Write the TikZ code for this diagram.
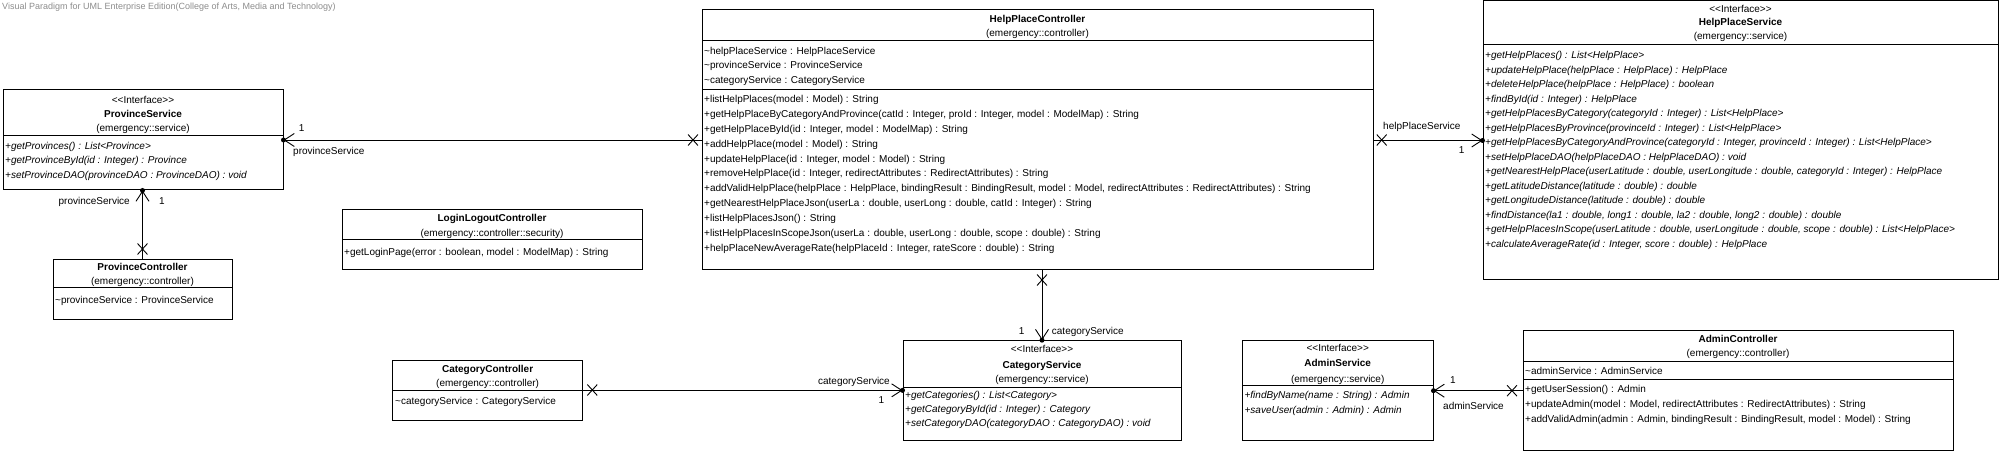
\documentclass[tikz,border=0pt]{standalone}
\usepackage{fontspec}
\setmainfont{Liberation Sans}
\usetikzlibrary{arrows.meta, shapes.misc}
\newcommand{\umlfont}{\fontsize{10}{12}\selectfont}
\newcommand{\ifacetag}{<{}<Interface>{}>}
\tikzstyle{classbox} = [rectangle, draw=black, line width=1pt, inner sep=0pt]
\tikzstyle{divider} = [line width=1pt]
\tikzstyle{head} = [anchor=base, inner sep=0pt, font=\umlfont]
\tikzstyle{cname} = [anchor=base, inner sep=0pt, font=\umlfont\bfseries]
\tikzstyle{member} = [anchor=base west, inner sep=0pt, font=\umlfont]
\tikzstyle{abstractop} = [anchor=base west, inner sep=0pt, font=\umlfont\itshape]
\tikzstyle{lbl} = [inner sep=0pt, font=\umlfont]
\tikzstyle{vptitle} = [anchor=base west, inner sep=0pt, text=black!45, font=\fontsize{9}{10}\selectfont]
\tikzstyle{assoc} = [line width=0.9pt, -{Straight Barb[length=10pt,width=13pt]}]
\tikzstyle{owndot} = [circle, fill=black, inner sep=0pt, minimum size=5pt]
\tikzstyle{xmark} = [cross out, draw=black, line width=0.9pt, inner sep=0pt, minimum width=9pt, minimum height=10pt]

\begin{document}
\begin{tikzpicture}[x=1pt, y=-1pt]
\useasboundingbox (0,0) rectangle (2006,454);

\node[vptitle] (vp) at (2,9.5) {Visual Paradigm for UML Enterprise Edition(College of Arts, Media and Technology)};

% ProvinceService
\node[classbox, minimum width=280pt, minimum height=100pt] (ps) at (143,140) {};
\node[head] (ps-st) at (143,103.5) {\ifacetag};
\node[cname] (ps-nm) at (143,117.5) {ProvinceService};
\node[head] (ps-pk) at (143,131.5) {(emergency::service)};
\draw[divider] (3,136) -- (283,136);
\foreach \op [count=\i from 0] in {{+getProvinces() : List<Province>},
  {+getProvinceById(id : Integer) : Province},
  {+setProvinceDAO(provinceDAO : ProvinceDAO) : void}}
  \node[abstractop] (ps-op\i) at (5,149.5+14.5*\i) {\op};

% ProvinceController
\node[classbox, minimum width=179pt, minimum height=60pt] (pc) at (142.5,290) {};
\node[cname] (pc-nm) at (142.5,270.5) {ProvinceController};
\node[head] (pc-pk) at (142.5,284.5) {(emergency::controller)};
\draw[divider] (53,288) -- (232,288);
\node[member] (pc-at0) at (55,303.5) {\textasciitilde provinceService : ProvinceService};

% LoginLogoutController
\node[classbox, minimum width=300pt, minimum height=60pt] (llc) at (492,240) {};
\node[cname] (llc-nm) at (492,221.8) {LoginLogoutController};
\node[head] (llc-pk) at (492,236.5) {(emergency::controller::security)};
\draw[divider] (342,239.5) -- (642,239.5);
\node[member] (llc-op0) at (344,255.2) {+getLoginPage(error : boolean, model : ModelMap) : String};

% HelpPlaceController
\node[classbox, minimum width=671pt, minimum height=260pt] (hpc) at (1037.5,140) {};
\node[cname] (hpc-nm) at (1037.5,22.5) {HelpPlaceController};
\node[head] (hpc-pk) at (1037.5,36.5) {(emergency::controller)};
\draw[divider] (702,40.7) -- (1373,40.7);
\foreach \at [count=\i from 0] in {{\textasciitilde helpPlaceService : HelpPlaceService},
  {\textasciitilde provinceService : ProvinceService},
  {\textasciitilde categoryService : CategoryService}}
  \node[member] (hpc-at\i) at (704,54.2+14.65*\i) {\at};
\draw[divider] (702,89.3) -- (1373,89.3);
\foreach \op [count=\i from 0] in {{+listHelpPlaces(model : Model) : String},
  {+getHelpPlaceByCategoryAndProvince(catId : Integer, proId : Integer, model : ModelMap) : String},
  {+getHelpPlaceById(id : Integer, model : ModelMap) : String},
  {+addHelpPlace(model : Model) : String},
  {+updateHelpPlace(id : Integer, model : Model) : String},
  {+removeHelpPlace(id : Integer, redirectAttributes : RedirectAttributes) : String},
  {+addValidHelpPlace(helpPlace : HelpPlace, bindingResult : BindingResult, model : Model, redirectAttributes : RedirectAttributes) : String},
  {+getNearestHelpPlaceJson(userLa : double, userLong : double, catId : Integer) : String},
  {+listHelpPlacesJson() : String},
  {+listHelpPlacesInScopeJson(userLa : double, userLong : double, scope : double) : String},
  {+helpPlaceNewAverageRate(helpPlaceId : Integer, rateScore : double) : String}}
  \node[member] (hpc-op\i) at (704,102.2+14.96*\i) {\op};

% HelpPlaceService
\node[classbox, minimum width=515pt, minimum height=279pt] (hps) at (1740.5,140.5) {};
\node[head] (hps-st) at (1740.5,12.5) {\ifacetag};
\node[cname] (hps-nm) at (1740.5,26) {HelpPlaceService};
\node[head] (hps-pk) at (1740.5,39.5) {(emergency::service)};
\draw[divider] (1483,45) -- (1998,45);
\foreach \op [count=\i from 0] in {{+getHelpPlaces() : List<HelpPlace>},
  {+updateHelpPlace(helpPlace : HelpPlace) : HelpPlace},
  {+deleteHelpPlace(helpPlace : HelpPlace) : boolean},
  {+findById(id : Integer) : HelpPlace},
  {+getHelpPlacesByCategory(categoryId : Integer) : List<HelpPlace>},
  {+getHelpPlacesByProvince(provinceId : Integer) : List<HelpPlace>},
  {+getHelpPlacesByCategoryAndProvince(categoryId : Integer, provinceId : Integer) : List<HelpPlace>},
  {+setHelpPlaceDAO(helpPlaceDAO : HelpPlaceDAO) : void},
  {+getNearestHelpPlace(userLatitude : double, userLongitude : double, categoryId : Integer) : HelpPlace},
  {+getLatitudeDistance(latitude : double) : double},
  {+getLongitudeDistance(latitude : double) : double},
  {+findDistance(la1 : double, long1 : double, la2 : double, long2 : double) : double},
  {+getHelpPlacesInScope(userLatitude : double, userLongitude : double, scope : double) : List<HelpPlace>},
  {+calculateAverageRate(id : Integer, score : double) : HelpPlace}}
  \node[abstractop] (hps-op\i) at (1485,59+14.5*\i) {\op};

% CategoryController
\node[classbox, minimum width=189.8pt, minimum height=59.3pt] (cc) at (487.6,390.35) {};
\node[cname] (cc-nm) at (487.6,372.5) {CategoryController};
\node[head] (cc-pk) at (487.6,386.6) {(emergency::controller)};
\draw[divider] (392.7,390) -- (582.5,390);
\node[member] (cc-at0) at (395,404.2) {\textasciitilde categoryService : CategoryService};

% CategoryService
\node[classbox, minimum width=278pt, minimum height=99.3pt] (cs) at (1042,390.35) {};
\node[head] (cs-st) at (1042,352.8) {\ifacetag};
\node[cname] (cs-nm) at (1042,368.5) {CategoryService};
\node[head] (cs-pk) at (1042,382.8) {(emergency::service)};
\draw[divider] (903,387.3) -- (1181,387.3);
\foreach \op [count=\i from 0] in {{+getCategories() : List<Category>},
  {+getCategoryById(id : Integer) : Category},
  {+setCategoryDAO(categoryDAO : CategoryDAO) : void}}
  \node[abstractop] (cs-op\i) at (905,398.5+14.2*\i) {\op};

% AdminService
\node[classbox, minimum width=190.6pt, minimum height=100pt] (as) at (1337.7,390.7) {};
\node[head] (as-st) at (1337.7,351.8) {\ifacetag};
\node[cname] (as-nm) at (1337.7,366.8) {AdminService};
\node[head] (as-pk) at (1337.7,382.3) {(emergency::service)};
\draw[divider] (1242.4,385.7) -- (1433,385.7);
\foreach \op [count=\i from 0] in {{+findByName(name : String) : Admin},
  {+saveUser(admin : Admin) : Admin}}
  \node[abstractop] (as-op\i) at (1244.4,398.5+15*\i) {\op};

% AdminController
\node[classbox, minimum width=430pt, minimum height=119.3pt] (ac) at (1738,390.35) {};
\node[cname] (ac-nm) at (1738,342.5) {AdminController};
\node[head] (ac-pk) at (1738,356.8) {(emergency::controller)};
\draw[divider] (1523,361.7) -- (1953,361.7);
\node[member] (ac-at0) at (1525,374.2) {\textasciitilde adminService : AdminService};
\draw[divider] (1523,379.3) -- (1953,379.3);
\foreach \op [count=\i from 0] in {{+getUserSession() : Admin},
  {+updateAdmin(model : Model, redirectAttributes : RedirectAttributes) : String},
  {+addValidAdmin(admin : Admin, bindingResult : BindingResult, model : Model) : String}}
  \node[member] (ac-op\i) at (1525,392.8+15*\i) {\op};

% associations
\draw[assoc] (pc.north) -- (pc.north |- ps.south) node[owndot, pos=1] (d-ps1) {};
\node[xmark] (x-pc) at (142.5,249) {};
\node[lbl, anchor=base east] (l-ps1) at (130,204.2) {provinceService};
\node[lbl, anchor=base] (m-ps1) at (162,204.2) {1};

\draw[assoc] (hpc.west |- ps.east) -- (ps.east) node[owndot, pos=1] (d-ps2) {};
\node[xmark] (x-hpc1) at (693,140) {};
\node[lbl, anchor=base] (m-ps2) at (301.7,131.5) {1};
\node[lbl, anchor=base west] (l-ps2) at (293,154.2) {provinceService};

\draw[assoc] (hpc.east |- hps.west) -- (hps.west) node[owndot, pos=1] (d-hps) {};
\node[xmark] (x-hpc2) at (1381.7,140) {};
\node[lbl, anchor=base west] (l-hps) at (1383,129.5) {helpPlaceService};
\node[lbl, anchor=base] (m-hps) at (1461.7,153.5) {1};

\draw[assoc] (hpc.south -| cs.north) -- (cs.north) node[owndot, pos=1] (d-cs1) {};
\node[xmark] (x-hpc3) at (1042,280) {};
\node[lbl, anchor=base] (m-cs1) at (1021.7,334.5) {1};
\node[lbl, anchor=base west] (l-cs1) at (1051.7,334.5) {categoryService};

\draw[assoc] (cc.east) -- (cc.east -| cs.west) node[owndot, pos=1] (d-cs2) {};
\node[xmark] (x-cc) at (592.3,390) {};
\node[lbl, anchor=base east] (l-cs2) at (890,384.2) {categoryService};
\node[lbl, anchor=base] (m-cs2) at (881.4,403.5) {1};

\draw[assoc] (ac.west |- as.east) -- (as.east) node[owndot, pos=1] (d-as) {};
\node[xmark] (x-ac) at (1512,390.7) {};
\node[lbl, anchor=base] (m-as) at (1452.8,383.5) {1};
\node[lbl, anchor=base west] (l-as) at (1443,409.5) {adminService};

\end{tikzpicture}
\end{document}
